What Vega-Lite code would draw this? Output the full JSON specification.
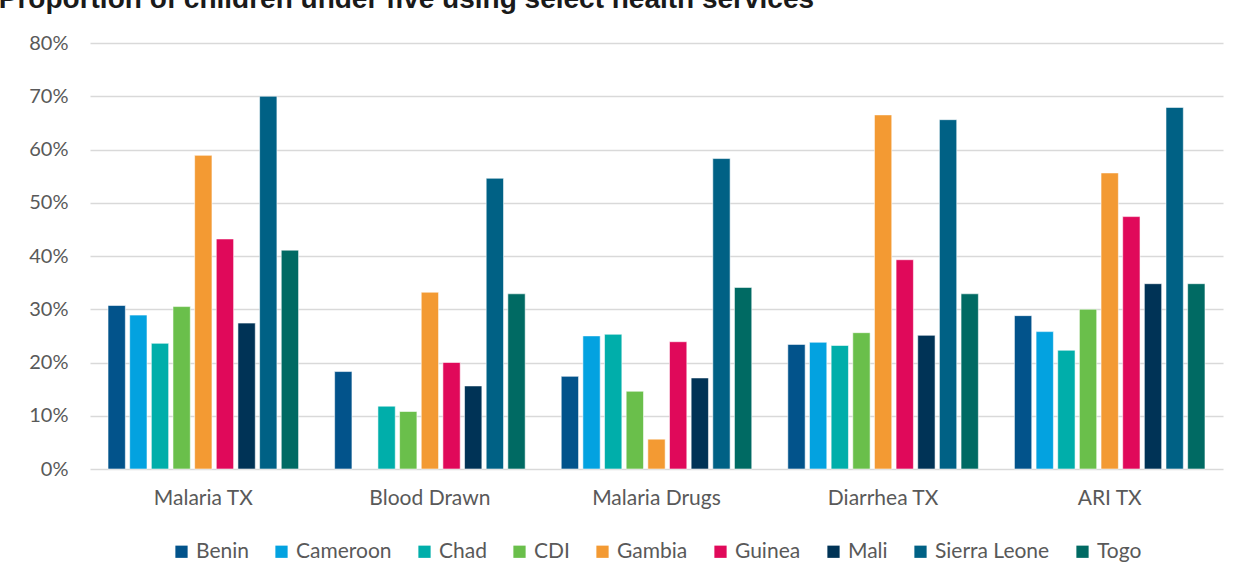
{
  "$schema": "https://vega.github.io/schema/vega-lite/v6.json",
  "width": 1133,
  "height": 426,
  "padding": {"left": -2, "top": -14, "right": 10, "bottom": 10},
  "background": "white",
  "title": {
    "text": "Proportion of children under five using select health services",
    "anchor": "start",
    "frame": "bounds",
    "dx": -30,
    "font": "Liberation Sans",
    "fontSize": 28,
    "fontWeight": "bold",
    "color": "#1a1a1a",
    "offset": 19
  },
  "data": {
    "values": [
      {"service": "Malaria TX", "country": "Benin", "value": 0.307},
      {"service": "Malaria TX", "country": "Cameroon", "value": 0.289},
      {"service": "Malaria TX", "country": "Chad", "value": 0.236},
      {"service": "Malaria TX", "country": "CDI", "value": 0.305},
      {"service": "Malaria TX", "country": "Gambia", "value": 0.589},
      {"service": "Malaria TX", "country": "Guinea", "value": 0.432},
      {"service": "Malaria TX", "country": "Mali", "value": 0.274},
      {"service": "Malaria TX", "country": "Sierra Leone", "value": 0.700},
      {"service": "Malaria TX", "country": "Togo", "value": 0.411},
      {"service": "Blood Drawn", "country": "Benin", "value": 0.183},
      {"service": "Blood Drawn", "country": "Chad", "value": 0.118},
      {"service": "Blood Drawn", "country": "CDI", "value": 0.108},
      {"service": "Blood Drawn", "country": "Gambia", "value": 0.332},
      {"service": "Blood Drawn", "country": "Guinea", "value": 0.200},
      {"service": "Blood Drawn", "country": "Mali", "value": 0.156},
      {"service": "Blood Drawn", "country": "Sierra Leone", "value": 0.546},
      {"service": "Blood Drawn", "country": "Togo", "value": 0.329},
      {"service": "Malaria Drugs", "country": "Benin", "value": 0.174},
      {"service": "Malaria Drugs", "country": "Cameroon", "value": 0.250},
      {"service": "Malaria Drugs", "country": "Chad", "value": 0.253},
      {"service": "Malaria Drugs", "country": "CDI", "value": 0.146},
      {"service": "Malaria Drugs", "country": "Gambia", "value": 0.056},
      {"service": "Malaria Drugs", "country": "Guinea", "value": 0.239},
      {"service": "Malaria Drugs", "country": "Mali", "value": 0.171},
      {"service": "Malaria Drugs", "country": "Sierra Leone", "value": 0.583},
      {"service": "Malaria Drugs", "country": "Togo", "value": 0.341},
      {"service": "Diarrhea TX", "country": "Benin", "value": 0.234},
      {"service": "Diarrhea TX", "country": "Cameroon", "value": 0.238},
      {"service": "Diarrhea TX", "country": "Chad", "value": 0.232},
      {"service": "Diarrhea TX", "country": "CDI", "value": 0.256},
      {"service": "Diarrhea TX", "country": "Gambia", "value": 0.665},
      {"service": "Diarrhea TX", "country": "Guinea", "value": 0.393},
      {"service": "Diarrhea TX", "country": "Mali", "value": 0.251},
      {"service": "Diarrhea TX", "country": "Sierra Leone", "value": 0.656},
      {"service": "Diarrhea TX", "country": "Togo", "value": 0.329},
      {"service": "ARI TX", "country": "Benin", "value": 0.288},
      {"service": "ARI TX", "country": "Cameroon", "value": 0.258},
      {"service": "ARI TX", "country": "Chad", "value": 0.223},
      {"service": "ARI TX", "country": "CDI", "value": 0.300},
      {"service": "ARI TX", "country": "Gambia", "value": 0.556},
      {"service": "ARI TX", "country": "Guinea", "value": 0.474},
      {"service": "ARI TX", "country": "Mali", "value": 0.348},
      {"service": "ARI TX", "country": "Sierra Leone", "value": 0.679},
      {"service": "ARI TX", "country": "Togo", "value": 0.348}
    ]
  },
  "mark": {"type": "bar", "stroke": "white", "strokeWidth": 0.8, "strokeOpacity": 0.7},
  "encoding": {
    "x": {
      "field": "service",
      "type": "nominal",
      "sort": ["Malaria TX", "Blood Drawn", "Malaria Drugs", "Diarrhea TX", "ARI TX"],
      "scale": {"paddingInner": 0.14, "paddingOuter": 0.07},
      "axis": {
        "title": null,
        "labelAngle": 0,
        "labelFont": "Lato",
        "labelFontSize": 21,
        "labelColor": "#595959",
        "labelPadding": 18,
        "ticks": false,
        "domain": false
      }
    },
    "xOffset": {
      "field": "country",
      "type": "nominal",
      "sort": ["Benin", "Cameroon", "Chad", "CDI", "Gambia", "Guinea", "Mali", "Sierra Leone", "Togo"],
      "scale": {"paddingInner": 0.2, "paddingOuter": 0.1}
    },
    "y": {
      "field": "value",
      "type": "quantitative",
      "scale": {"domain": [0, 0.8]},
      "axis": {
        "title": null,
        "format": ".0%",
        "values": [0, 0.1, 0.2, 0.3, 0.4, 0.5, 0.6, 0.7, 0.8],
        "labelFont": "Lato",
        "labelFontSize": 20,
        "labelColor": "#595959",
        "labelPadding": 22,
        "ticks": false,
        "domain": false,
        "gridColor": "#d9d9d9",
        "gridWidth": 1.5
      }
    },
    "color": {
      "field": "country",
      "type": "nominal",
      "sort": ["Benin", "Cameroon", "Chad", "CDI", "Gambia", "Guinea", "Mali", "Sierra Leone", "Togo"],
      "scale": {
        "domain": ["Benin", "Cameroon", "Chad", "CDI", "Gambia", "Guinea", "Mali", "Sierra Leone", "Togo"],
        "range": ["#02538b", "#03a2e0", "#00aeaa", "#6abf4b", "#f39a33", "#e0095a", "#003356", "#006185", "#006a63"]
      },
      "legend": {
        "title": null,
        "orient": "bottom",
        "direction": "horizontal",
        "symbolType": "square",
        "symbolSize": 150,
        "symbolStrokeWidth": 0,
        "labelFont": "Lato",
        "labelFontSize": 21,
        "labelColor": "#595959",
        "labelOffset": 4,
        "columnPadding": 22,
        "offset": 33
      }
    }
  },
  "config": {
    "view": {"stroke": null},
    "legend": {"layout": {"bottom": {"anchor": "middle"}}}
  }
}
